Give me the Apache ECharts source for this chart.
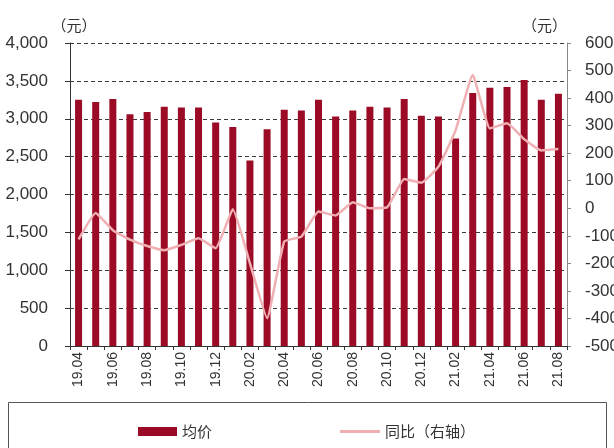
<!DOCTYPE html>
<html>
<head>
<meta charset="utf-8">
<script src="https://cdn.jsdelivr.net/npm/echarts@6/dist/echarts.min.js"></script>
<style>
  html, body { margin: 0; padding: 0; background: #fff; }
  #chart { width: 614px; height: 448px; }
</style>
</head>
<body>
<div id="chart"></div>
<script>
// Monthly categories (yy.mm)
const months = ['19.04','19.05','19.06','19.07','19.08','19.09','19.10','19.11','19.12',
  '20.01','20.02','20.03','20.04','20.05','20.06','20.07','20.08','20.09','20.10','20.11','20.12',
  '21.01','21.02','21.03','21.04','21.05','21.06','21.07','21.08'];

// Average price (元), left axis
const avgPrice = [3250,3220,3260,3060,3090,3160,3150,3150,2950,
  2890,2450,2860,3120,3110,3250,3030,3110,3160,3150,3260,3040,
  3030,2740,3340,3410,3420,3510,3250,3330];

// Year-on-year change (元), right axis
const yoyChange = [-113,-17,-80,-114,-137,-152,-133,-109,-145,
  -4,-200,-399,-121,-103,-12,-26,22,0,3,106,93,
  151,283,484,290,309,251,210,215];

const seriesNames = ['均价', '同比（右轴）'];
const unitName = '（元）';

const barColor = '#9b0b26';
const lineColor = '#f0b0b3';
const textColor = '#333';
const numFont = 'Liberation Sans';
const cjkFont = 'Noto Sans CJK SC';

const chart = echarts.init(document.getElementById('chart'));
chart.setOption({
  animation: false,
  backgroundColor: '#fff',
  grid: { left: 70, right: 47, top: 43, bottom: 102, containLabel: false, outerBoundsMode: 'none' },
  legend: [
    {
      data: [seriesNames[0]],
      left: 133, top: 419,
      icon: 'rect', itemWidth: 39, itemHeight: 9,
      textStyle: { color: textColor, fontSize: 15, fontFamily: cjkFont }
    },
    {
      data: [seriesNames[1]],
      left: 335, top: 419,
      icon: 'rect', itemWidth: 40, itemHeight: 3,
      textStyle: { color: textColor, fontSize: 15, fontFamily: cjkFont }
    }
  ],
  graphic: [
    {
      type: 'rect', silent: true,
      shape: { x: 8.5, y: 402.5, width: 598, height: 60 },
      style: { fill: 'none', stroke: '#555', lineWidth: 1 }
    }
  ],
  xAxis: {
    type: 'category',
    data: months,
    boundaryGap: true,
    axisLine: { lineStyle: { color: '#333', width: 1 } },
    axisTick: { show: true, interval: 0, length: 4, lineStyle: { color: '#333' } },
    axisLabel: {
      interval: 1, rotate: 90, margin: 6,
      color: textColor, fontSize: 14, fontFamily: numFont
    },
    splitLine: { show: false }
  },
  yAxis: [
    {
      type: 'value', min: 0, max: 4000, interval: 500,
      name: unitName, nameLocation: 'end', nameGap: 10,
      nameTextStyle: { color: textColor, fontSize: 15, fontFamily: cjkFont, align: 'center', padding: [0, 0, 0, 8] },
      axisLine: { show: true, lineStyle: { color: '#333' } },
      axisTick: { show: true, length: 5, lineStyle: { color: '#333' } },
      axisLabel: {
        margin: 22, color: textColor, fontSize: 17, fontFamily: numFont,
        formatter: v => v.toLocaleString('en-US')
      },
      splitLine: { show: true, lineStyle: { color: '#3a3a3a', type: [4, 3], width: 1 } }
    },
    {
      type: 'value', min: -500, max: 600, interval: 100,
      position: 'right',
      name: unitName, nameLocation: 'end', nameGap: 10,
      nameTextStyle: { color: textColor, fontSize: 15, fontFamily: cjkFont, align: 'right' },
      axisLine: { show: true, lineStyle: { color: '#888' } },
      axisTick: { show: true, length: 4, lineStyle: { color: '#888' } },
      axisLabel: { margin: 18, color: textColor, fontSize: 17, fontFamily: numFont },
      splitLine: { show: false }
    }
  ],
  series: [
    {
      name: seriesNames[0],
      type: 'bar',
      yAxisIndex: 0,
      data: avgPrice,
      barWidth: 7,
      itemStyle: { color: barColor }
    },
    {
      name: seriesNames[1],
      type: 'line',
      yAxisIndex: 1,
      data: yoyChange,
      smooth: 0.12,
      showSymbol: false,
      symbol: 'none',
      lineStyle: { color: lineColor, width: 2.5 },
      itemStyle: { color: lineColor },
      z: 3
    }
  ]
});
</script>
</body>
</html>
